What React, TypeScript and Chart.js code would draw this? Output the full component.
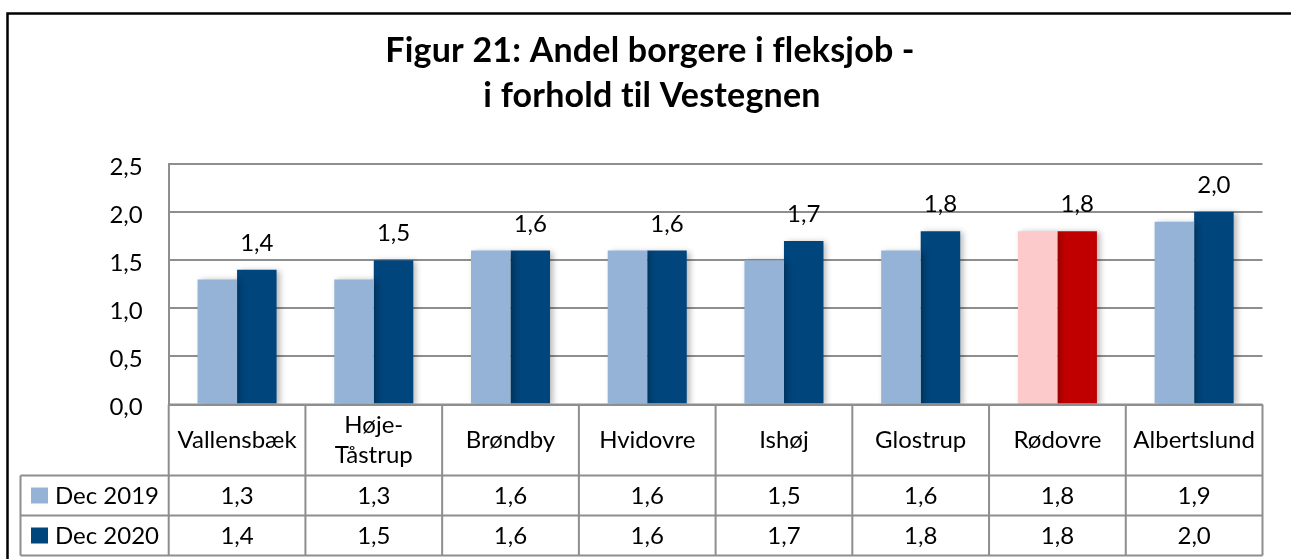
import { useEffect, useRef } from 'react';
import { Chart, registerables } from 'chart.js';

Chart.register(...registerables);

const titleLines = ['Figur 21: Andel borgere i fleksjob -', 'i forhold til Vestegnen'];
const categories: (string | string[])[] = [
  'Vallensbæk',
  ['Høje-', 'Tåstrup'],
  'Brøndby',
  'Hvidovre',
  'Ishøj',
  'Glostrup',
  'Rødovre',
  'Albertslund',
];
const seriesNames = ['Dec 2019', 'Dec 2020'];
const dec2019 = [1.3, 1.3, 1.6, 1.6, 1.5, 1.6, 1.8, 1.9];
const dec2020 = [1.4, 1.5, 1.6, 1.6, 1.7, 1.8, 1.8, 2.0];
const highlightIndex = 6; // Rødovre
const yMin = 0;
const yMax = 2.5;
const yStep = 0.5;

const LIGHT = '#95B3D7';
const DARK = '#00457C';
const LIGHT_HL = '#FCCACA';
const DARK_HL = '#C00000';
const GRID = '#8e8e8e';
const FONT = 'Lato, "Open Sans", sans-serif';

const fmt = (v: number) => v.toFixed(1).replace('.', ',');

const colorsFor = (base: string, hl: string) => categories.map((_, i) => (i === highlightIndex ? hl : base));

const decorPlugin = {
  id: 'decor',
  beforeDraw(chart: any) {
    const { ctx, width, height } = chart;
    ctx.save();
    ctx.fillStyle = '#ffffff';
    ctx.fillRect(0, 0, width, height);
    ctx.restore();
  },
  beforeDatasetsDraw(chart: any) {
    const { ctx } = chart;
    ctx.save();
    ctx.shadowColor = 'rgba(0,0,0,0.28)';
    ctx.shadowBlur = 6;
    ctx.shadowOffsetX = 3;
    ctx.shadowOffsetY = 1;
  },
  afterDatasetsDraw(chart: any) {
    chart.ctx.restore();
  },
  afterDraw(chart: any) {
    const { ctx, chartArea } = chart;
    const x = chart.scales.x;
    const left = chartArea.left;
    const right = chartArea.right;
    const y0 = chartArea.bottom;
    const n = categories.length;
    const w = (right - left) / n;
    const tableLeft = 20.5;
    const headerBottom = y0 + 71;
    const row1Bottom = headerBottom + 40;
    const row2Bottom = row1Bottom + 40;

    ctx.save();
    // outer frame
    ctx.strokeStyle = '#000';
    ctx.lineWidth = 2.5;
    ctx.strokeRect(7.5, 13.5, 1400, 700);

    // title (letter spacing avoids Lato's fl/ti ligatures)
    ctx.fillStyle = '#000';
    ctx.textAlign = 'center';
    ctx.textBaseline = 'alphabetic';
    ctx.font = `bold 34px ${FONT}`;
    (ctx as any).letterSpacing = '0.2px';
    ctx.fillText(titleLines[0], 650, 62);
    ctx.fillText(titleLines[1], 652, 107);
    (ctx as any).letterSpacing = '0px';

    // data labels for Dec 2020
    ctx.font = `24px ${FONT}`;
    const meta = chart.getDatasetMeta(1);
    meta.data.forEach((bar: any, i: number) => {
      ctx.fillText(fmt(dec2020[i]), bar.x, bar.y - 19);
    });

    // table lines
    ctx.strokeStyle = GRID;
    ctx.lineWidth = 2;
    ctx.beginPath();
    ctx.moveTo(left, y0);
    ctx.lineTo(right, y0);
    [headerBottom, row1Bottom, row2Bottom].forEach((yy) => {
      ctx.moveTo(tableLeft, yy);
      ctx.lineTo(right, yy);
    });
    ctx.moveTo(tableLeft, headerBottom);
    ctx.lineTo(tableLeft, row2Bottom);
    for (let i = 0; i <= n; i++) {
      const xx = left + i * w;
      ctx.moveTo(xx, y0);
      ctx.lineTo(xx, row2Bottom);
    }
    ctx.stroke();

    // category labels
    ctx.fillStyle = '#000';
    ctx.textAlign = 'center';
    ctx.textBaseline = 'middle';
    ctx.font = `24px ${FONT}`;
    categories.forEach((c, i) => {
      const cx = x.getPixelForValue(i);
      const cy = (y0 + headerBottom) / 2;
      const lines = Array.isArray(c) ? c : [c];
      const lh = 30;
      lines.forEach((ln, j) => {
        ctx.fillText(ln, cx, cy + (j - (lines.length - 1) / 2) * lh);
      });
    });

    // values
    const rows = [dec2019, dec2020];
    const rowCenters = [(headerBottom + row1Bottom) / 2, (row1Bottom + row2Bottom) / 2];
    rows.forEach((vals, r) => {
      vals.forEach((v, i) => {
        ctx.fillText(fmt(v), x.getPixelForValue(i), rowCenters[r] + 1);
      });
    });

    // legend keys
    const swatches = [LIGHT, DARK];
    ctx.textAlign = 'left';
    rowCenters.forEach((cy, r) => {
      ctx.fillStyle = swatches[r];
      ctx.fillRect(31, cy - 8, 17, 16);
      ctx.fillStyle = '#000';
      ctx.fillText(seriesNames[r], 55, cy + 1);
    });
    ctx.restore();
  },
};

export default function App() {
  const ref = useRef<HTMLCanvasElement>(null);

  useEffect(() => {
    if (!ref.current) return;
    const chart = new Chart(ref.current, {
      type: 'bar',
      data: {
        labels: categories as any,
        datasets: [
          {
            label: seriesNames[0],
            data: dec2019,
            backgroundColor: colorsFor(LIGHT, LIGHT_HL),
            categoryPercentage: 0.578,
            barPercentage: 1,
          },
          {
            label: seriesNames[1],
            data: dec2020,
            backgroundColor: colorsFor(DARK, DARK_HL),
            categoryPercentage: 0.578,
            barPercentage: 1,
          },
        ],
      },
      options: {
        animation: false,
        responsive: false,
        layout: { padding: { top: 164, bottom: 154.5, left: 0, right: 28.5 } },
        plugins: {
          legend: { display: false },
          tooltip: { enabled: false },
          title: { display: false },
        },
        scales: {
          x: { display: false },
          y: {
            min: yMin,
            max: yMax,
            ticks: {
              stepSize: yStep,
              padding: 26,
              labelOffset: 3,
              color: '#000',
              font: { family: FONT, size: 24 },
              callback: (v: any) => fmt(Number(v)),
            },
            grid: { color: GRID, lineWidth: 2, drawTicks: false },
            border: { color: GRID, width: 2 },
            afterFit: (s: any) => {
              s.width = 168.7;
            },
          },
        },
      },
      plugins: [decorPlugin],
    });
    return () => chart.destroy();
  }, []);

  return (
    <div style={{ position: 'absolute', left: 0, top: 0, width: 1291, height: 559 }}>
      <canvas ref={ref} width={1291} height={559} style={{ display: 'block' }} />
    </div>
  );
}
